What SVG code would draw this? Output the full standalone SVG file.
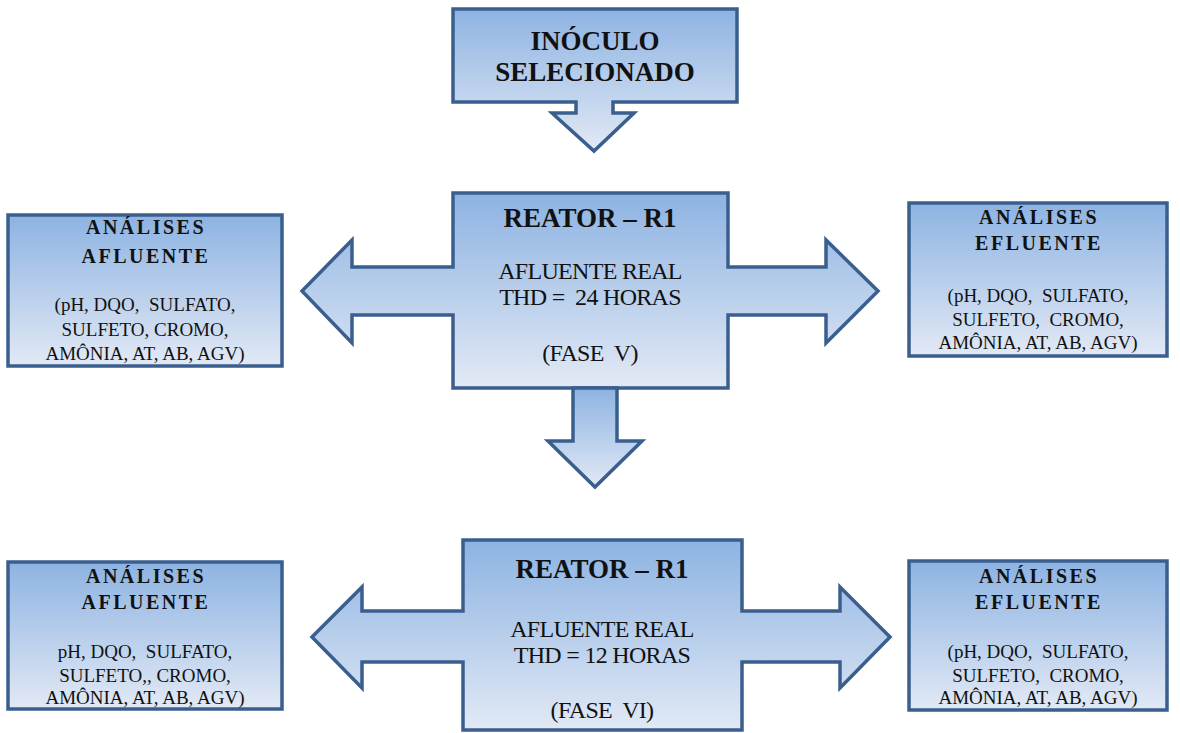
<svg xmlns="http://www.w3.org/2000/svg" width="1180" height="733" viewBox="0 0 1180 733">
<defs>
<linearGradient id="g" x1="0" y1="0" x2="0" y2="1">
<stop offset="0" stop-color="#8db3e2"/>
<stop offset="1" stop-color="#e2e9f5"/>
</linearGradient>
</defs>
<style>
.s{fill:url(#g);stroke:#3a5f8e;stroke-width:3.5;stroke-linejoin:miter}
text{fill:#111;text-anchor:middle;white-space:pre}
.h{font-weight:bold;font-size:20px;letter-spacing:2.5px}
.t{font-weight:bold;font-size:27px}
.r{font-weight:bold;font-size:27px}
.m{font-size:24px;letter-spacing:-0.7px}
.b{font-size:19px}
</style>
<rect width="1180" height="733" fill="#fff"/>
<g font-family="'Liberation Serif', 'Times New Roman', serif">
<g id="inoculo">
<path class="s" d="M453,9 H737 V102 H613 V113 H634 L594,151 L552,113 H576 V102 H453 Z"/>
<text class="t" x="595" y="50">INÓCULO</text>
<text class="t" x="595" y="81">SELECIONADO</text>
</g>
<g id="reator1">
<path class="s" d="M453,193 H728 V267 H826 V240 L878,291 L826,343 V315 H728 V388 H453 V315 H352 V343 L302,291 L352,240 V267 H453 Z"/>
<text class="r" x="590" y="227">REATOR – R1</text>
<text class="m" x="590" y="279">AFLUENTE REAL</text>
<text class="m" x="590" y="305">THD =  24 HORAS</text>
<text class="m" x="590" y="361">(FASE  V)</text>
</g>
<g id="afluente1">
<rect class="s" x="8" y="215" width="274" height="151"/>
<text class="h" x="146" y="234">ANÁLISES</text>
<text class="h" x="146" y="263">AFLUENTE</text>
<text class="b" x="145" y="311">(pH, DQO,  SULFATO,</text>
<text class="b" x="145" y="336">SULFETO, CROMO,</text>
<text class="b" x="145" y="360">AMÔNIA, AT, AB, AGV)</text>
</g>
<g id="efluente1">
<rect class="s" x="909" y="203" width="258" height="153"/>
<text class="h" x="1039" y="224">ANÁLISES</text>
<text class="h" x="1039" y="250">EFLUENTE</text>
<text class="b" x="1038" y="302">(pH, DQO,  SULFATO,</text>
<text class="b" x="1038" y="326">SULFETO,  CROMO,</text>
<text class="b" x="1038" y="349">AMÔNIA, AT, AB, AGV)</text>
</g>
<g id="reator2">
<path class="s" d="M463,540 H742 V611 H840 V587 L890,637 L840,688 V662 H742 V730 H463 V662 H362 V688 L312,637 L362,587 V611 H463 Z"/>
<text class="r" x="602" y="578">REATOR – R1</text>
<text class="m" x="602" y="637">AFLUENTE REAL</text>
<text class="m" x="602" y="663">THD = 12 HORAS</text>
<text class="m" x="602" y="718">(FASE  VI)</text>
</g>
<g id="afluente2">
<rect class="s" x="8" y="562" width="274" height="147"/>
<text class="h" x="146" y="583">ANÁLISES</text>
<text class="h" x="146" y="609">AFLUENTE</text>
<text class="b" x="145" y="658">pH, DQO,  SULFATO,</text>
<text class="b" x="145" y="682">SULFETO,, CROMO,</text>
<text class="b" x="145" y="704">AMÔNIA, AT, AB, AGV)</text>
</g>
<g id="efluente2">
<rect class="s" x="909" y="561" width="258" height="149"/>
<text class="h" x="1039" y="583">ANÁLISES</text>
<text class="h" x="1039" y="609">EFLUENTE</text>
<text class="b" x="1038" y="658">(pH, DQO,  SULFATO,</text>
<text class="b" x="1038" y="682">SULFETO,  CROMO,</text>
<text class="b" x="1038" y="704">AMÔNIA, AT, AB, AGV)</text>
</g>
<g id="connectors">
<path class="s" d="M573,388 H617 V441 H642 L595,487 L548,441 H573 Z"/>
</g>
</g>
</svg>
